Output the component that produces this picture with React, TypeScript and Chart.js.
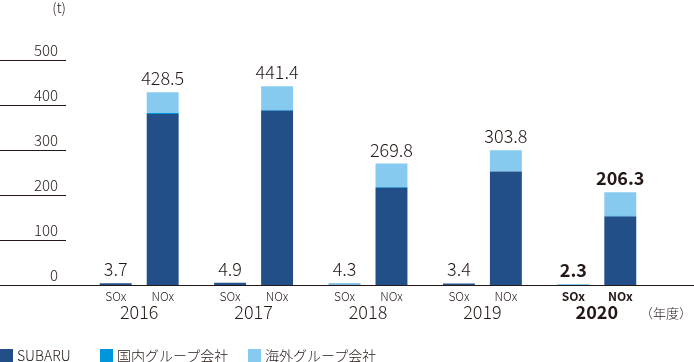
import React, { useEffect, useRef } from "react";
import { Chart, registerables } from "chart.js";

Chart.register(...registerables);

const FONT = "'Noto Sans CJK JP', 'Noto Sans', sans-serif";
const TEXT = "#231815";
const LIGHT = "300";

const years = ["2016", "2017", "2018", "2019", "2020"];
const gases = ["SOx", "NOx"];
const seriesNames = ["SUBARU", "国内グループ会社", "海外グループ会社"];
const seriesColors = ["#224f88", "#0096dc", "#86caf0"];
const legendWidths = [100, 148, 150];

const subaruSOx = [3.7, 4.9, 0.3, 3.4, 0.1];
const domesticSOx = [0, 0, 0, 0, 0];
const overseasSOx = [0, 0, 4.0, 0, 2.2];
const subaruNOx = [380, 387, 216, 252, 152];
const domesticNOx = [2, 2, 2, 0.5, 2];
const overseasNOx = [46.5, 52.4, 51.8, 47, 52.3];
const totalSOx = [3.7, 4.9, 4.3, 3.4, 2.3];
const totalNOx = [428.5, 441.4, 269.8, 303.8, 206.3];
const yTicks = [0, 100, 200, 300, 400, 500];
const unitLabel = "(t)";
const yearUnit = "（年度）";
const boldIndex = 4;

const decor = {
  id: "decor",
  afterDatasetsDraw(chart: any) {
    const { ctx, scales } = chart;
    const y = scales.y;
    ctx.save();
    ctx.strokeStyle = TEXT;
    ctx.lineWidth = 1;
    yTicks.forEach((v) => {
      const py = Math.round(y.getPixelForValue(v)) + 0.5;
      ctx.beginPath();
      ctx.moveTo(0, py);
      ctx.lineTo(v === 0 ? chart.width : 66, py);
      ctx.stroke();
    });
    const totals = [totalSOx, totalNOx];
    ctx.fillStyle = TEXT;
    ctx.textAlign = "center";
    gases.forEach((g, gi) => {
      const topMeta = chart.getDatasetMeta(gi * 3 + 2);
      const botMeta = chart.getDatasetMeta(gi * 3);
      years.forEach((yr, i) => {
        const el = topMeta.data[i];
        const top = Math.min(el.y, el.base, botMeta.data[i].y);
        const bold = i === boldIndex;
        ctx.font = `${bold ? "bold" : LIGHT} 18px ${FONT}`;
        ctx.textBaseline = "alphabetic";
        ctx.fillText(totals[gi][i].toFixed(1), el.x, top - 7);
        ctx.font = `${bold ? "bold" : LIGHT} 12px ${FONT}`;
        ctx.textBaseline = "middle";
        ctx.fillText(g, el.x, 296);
      });
    });
    ctx.font = `${LIGHT} 14px ${FONT}`;
    ctx.textAlign = "right";
    ctx.textBaseline = "middle";
    ctx.fillText(unitLabel, 66, 8);
    ctx.textAlign = "center";
    ctx.font = `${LIGHT} 13px ${FONT}`;
    ctx.fillText(yearUnit, 666, 313);
    ctx.restore();
  },
};

export default function App() {
  const ref = useRef<HTMLCanvasElement>(null);
  useEffect(() => {
    const mk = (label: string, data: number[], color: string, stack: string) => ({
      label,
      data,
      backgroundColor: color,
      stack,
      borderWidth: 0,
      categoryPercentage: 0.821,
      barPercentage: 0.68,
    });
    const chart = new Chart(ref.current!, {
      type: "bar",
      data: {
        labels: years,
        datasets: [
          mk(seriesNames[0], subaruSOx, seriesColors[0], "SOx"),
          mk(seriesNames[1], domesticSOx, seriesColors[1], "SOx"),
          mk(seriesNames[2], overseasSOx, seriesColors[2], "SOx"),
          mk(seriesNames[0], subaruNOx, seriesColors[0], "NOx"),
          mk(seriesNames[1], domesticNOx, seriesColors[1], "NOx"),
          mk(seriesNames[2], overseasNOx, seriesColors[2], "NOx"),
        ],
      },
      options: {
        responsive: false,
        animation: false,
        devicePixelRatio: 1,
        layout: { padding: { top: 60, right: 40, left: 0, bottom: 0 } },
        plugins: { legend: { display: false }, tooltip: { enabled: false } },
        scales: {
          x: {
            stacked: true,
            grid: { display: false },
            border: { display: false },
            ticks: {
              color: TEXT,
              padding: 8,
              font: (c: any) => ({ size: 18, family: FONT, weight: c.index === boldIndex ? "bold" : LIGHT }),
            },
            afterFit: (s: any) => {
              s.height = 77;
            },
          },
          y: {
            stacked: true,
            min: 0,
            max: 500,
            grid: { display: false },
            border: { display: false },
            ticks: {
              stepSize: 100,
              color: TEXT,
              padding: 16,
              labelOffset: -10,
              font: { size: 15, family: FONT, weight: LIGHT },
            },
            afterFit: (s: any) => {
              s.width = 82;
            },
          },
        },
      },
      plugins: [decor],
    });
    return () => chart.destroy();
  }, []);

  return (
    <div style={{ position: "fixed", left: 0, top: 0, width: 694, height: 362, background: "#fff", overflow: "hidden" }}>
      <canvas ref={ref} width={694} height={362} style={{ display: "block" }} />
      <div
        style={{
          position: "absolute",
          left: 0,
          top: 348,
          display: "flex",
          alignItems: "center",
          fontFamily: FONT,
          fontWeight: 300,
          fontSize: 14,
          color: TEXT,
          lineHeight: "14px",
        }}
      >
        {seriesNames.map((n, i) => (
          <div key={n} style={{ display: "flex", alignItems: "center", width: legendWidths[i] }}>
            <span style={{ display: "inline-block", width: 13, height: 13, background: seriesColors[i], marginRight: 4 }} />
            <span>{n}</span>
          </div>
        ))}
      </div>
    </div>
  );
}
